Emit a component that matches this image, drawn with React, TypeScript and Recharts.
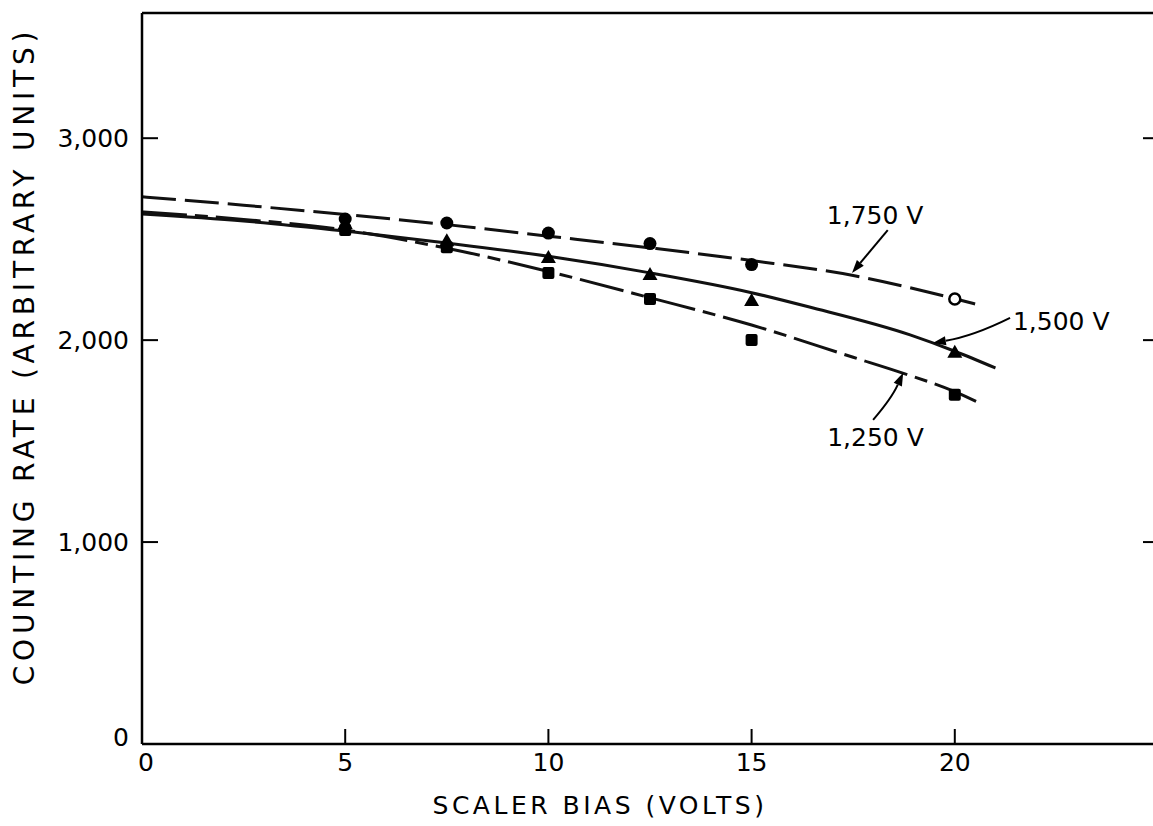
import React from 'react';
import { ComposedChart, Line, Scatter, XAxis, YAxis, ReferenceLine, ReferenceDot } from 'recharts';

const FONT = '"DejaVu Sans", sans-serif';

// Tick values / labels
const xTicks = [0, 5, 10, 15, 20];
const xTopTicks = [5, 10, 15, 20];
const yTicks = [0, 1000, 2000, 3000];
const yTickLabels: Record<number, string> = { 0: '0', 1000: '1,000', 2000: '2,000', 3000: '3,000' };

// Fitted curves
const curve1750 = [
  { x: 0, y: 2710 }, { x: 2.5, y: 2668 }, { x: 5, y: 2622 }, { x: 7.5, y: 2572 },
  { x: 10, y: 2515 }, { x: 12.5, y: 2457 }, { x: 15, y: 2394 }, { x: 17.5, y: 2320 },
  { x: 20, y: 2205 }, { x: 20.5, y: 2179 },
];
const curve1500 = [
  { x: 0, y: 2625 }, { x: 2.5, y: 2590 }, { x: 5, y: 2540 }, { x: 7.5, y: 2481 },
  { x: 10, y: 2415 }, { x: 12.5, y: 2333 }, { x: 15, y: 2235 }, { x: 16.4, y: 2165 },
  { x: 18.9, y: 2026 }, { x: 20, y: 1945 }, { x: 21, y: 1862 },
];
const curve1250 = [
  { x: 0, y: 2635 }, { x: 2.5, y: 2598 }, { x: 5, y: 2545 }, { x: 7.5, y: 2455 },
  { x: 10, y: 2340 }, { x: 12.5, y: 2210 }, { x: 15, y: 2075 }, { x: 17.5, y: 1915 },
  { x: 18.7, y: 1838 }, { x: 20, y: 1745 }, { x: 20.7, y: 1679 },
];

// Measured points
const pts1750 = [
  { x: 5, y: 2600 }, { x: 7.5, y: 2580 }, { x: 10, y: 2530 },
  { x: 12.5, y: 2478 }, { x: 15, y: 2374 }, { x: 20, y: 2204 },
];
const pts1500 = [
  { x: 5, y: 2575 }, { x: 7.5, y: 2490 }, { x: 10, y: 2407 },
  { x: 12.5, y: 2323 }, { x: 15, y: 2194 }, { x: 20, y: 1937 },
];
const pts1250 = [
  { x: 5, y: 2545 }, { x: 7.5, y: 2460 }, { x: 10, y: 2333 },
  { x: 12.5, y: 2204 }, { x: 15, y: 2001 }, { x: 20, y: 1729 },
];

const seriesLabels = ['1,750 V', '1,500 V', '1,250 V'];

const BottomTick = (props: any) => {
  const { x, y, payload } = props;
  const v = payload.value;
  return (
    <g>
      {v !== 0 && <line x1={x} y1={y} x2={x} y2={y - 15} stroke="#000" strokeWidth={2} />}
      <text x={x + (v === 0 ? 4 : 0)} y={y + 27} textAnchor="middle" fontFamily={FONT} fontSize={25} fill="#000">{v}</text>
    </g>
  );
};
const TopTick = (props: any) => {
  const { x, y } = props;
  return <line x1={x} y1={y} x2={x} y2={y + 17} stroke="#000" strokeWidth={2} />;
};
const LeftTick = (props: any) => {
  const { x, y, payload } = props;
  const v = payload.value;
  return (
    <g>
      {v !== 0 && <line x1={x} y1={y} x2={x + 16} y2={y} stroke="#000" strokeWidth={2} />}
      <text x={x - 13} y={v === 0 ? y + 2 : y + 9} textAnchor="end" fontFamily={FONT} fontSize={25} fill="#000">{yTickLabels[v]}</text>
    </g>
  );
};
const RightTick = (props: any) => {
  const { x, y, payload } = props;
  if (payload.value === 0) return <g />;
  return <line x1={x} y1={y} x2={x - 15} y2={y} stroke="#000" strokeWidth={2} />;
};

const CircleShape = (p: any) => {
  const open = p.payload && p.payload.x === 20;
  return open
    ? <circle cx={p.cx} cy={p.cy} r={5.5} fill="#fff" stroke="#000" strokeWidth={2.5} />
    : <circle cx={p.cx} cy={p.cy} r={6.5} fill="#000" />;
};
const TriangleShape = (p: any) => (
  <path d={`M${p.cx},${p.cy - 8} L${p.cx - 7.5},${p.cy + 5} L${p.cx + 7.5},${p.cy + 5} Z`} fill="#000" />
);
const SquareShape = (p: any) => (
  <rect x={p.cx - 6} y={p.cy - 6} width={12} height={12} rx={2} fill="#000" />
);

const arrowShape = (curve: number) => (p: any) => {
  const { x1, y1, x2, y2 } = p;
  const mx = (x1 + x2) / 2, my = (y1 + y2) / 2;
  const dx = x2 - x1, dy = y2 - y1;
  const len = Math.hypot(dx, dy) || 1;
  const nx = -dy / len, ny = dx / len;
  const cx = mx + nx * curve, cy = my + ny * curve;
  const tx = x2 - cx, ty = y2 - cy;
  const tl = Math.hypot(tx, ty) || 1;
  const ux = tx / tl, uy = ty / tl;
  const L = 13, W = 4.5;
  const bx = x2 - ux * L, by = y2 - uy * L;
  const head = `M${x2},${y2} L${bx - uy * W},${by + ux * W} L${bx + uy * W},${by - ux * W} Z`;
  return (
    <g>
      <path d={`M${x1},${y1} Q${cx},${cy} ${bx},${by}`} fill="none" stroke="#000" strokeWidth={2} />
      <path d={head} fill="#000" />
    </g>
  );
};

const textShape = (text: string) => (p: any) => (
  <text x={p.cx} y={p.cy} textAnchor="start" dominantBaseline="central" fontFamily={FONT} fontSize={25} fill="#000">{text}</text>
);

const XTitle = (p: any) => {
  const vb = p.viewBox || { x: 142, y: 744, width: 1016 };
  return (
    <text x={vb.x + vb.width / 2 - 50} y={vb.y + 70} textAnchor="middle" fontFamily={FONT} fontSize={25} letterSpacing={3.5} fill="#000">
      SCALER BIAS (VOLTS)
    </text>
  );
};
const YTitle = () => {
  const cx = 34, cy = 356;
  return (
    <text x={cx} y={cy} transform={`rotate(-90 ${cx} ${cy})`} textAnchor="middle" fontFamily={FONT} fontSize={28} letterSpacing={4.8} fill="#000">
      COUNTING RATE (ARBITRARY UNITS)
    </text>
  );
};

const axisStroke = { stroke: '#000', strokeWidth: 2.5 };
const lineCommon = { stroke: '#111', strokeWidth: 3, dot: false, isAnimationActive: false, activeDot: false } as any;

export default function App() {
  return (
    <div style={{ position: 'absolute', left: 0, top: 0, width: 1153, height: 826, overflow: 'hidden', background: '#fff' }}>
      <ComposedChart width={1165} height={826} margin={{ top: 12, left: 141, right: 6, bottom: 81 }}>
        <XAxis xAxisId={0} dataKey="x" type="number" domain={[0, 25]} allowDataOverflow ticks={xTicks} height={1}
          tickSize={0} tickMargin={0} tickLine={false} axisLine={axisStroke} tick={<BottomTick />} interval={0}
          label={{ content: <XTitle /> } as any} />
        <XAxis xAxisId="t" orientation="top" type="number" domain={[0, 25]} allowDataOverflow ticks={xTopTicks} height={1}
          tickSize={0} tickMargin={0} tickLine={false} axisLine={axisStroke} tick={<TopTick />} interval={0} />
        <YAxis yAxisId={0} type="number" domain={[0, 3620]} allowDataOverflow ticks={yTicks} width={1}
          tickSize={0} tickMargin={0} tickLine={false} axisLine={axisStroke} tick={<LeftTick />} interval={0}
          label={{ content: <YTitle /> } as any} />
        <YAxis yAxisId="r" orientation="right" type="number" domain={[0, 3620]} allowDataOverflow ticks={yTicks} width={1}
          tickSize={0} tickMargin={0} tickLine={false} axisLine={axisStroke} tick={<RightTick />} interval={0} />

        <Line data={curve1750} dataKey="y" type="monotone" strokeDasharray="34 9" {...lineCommon} />
        <Line data={curve1500} dataKey="y" type="monotone" {...lineCommon} />
        <Line data={curve1250} dataKey="y" type="monotone" strokeDasharray="45 8 13 8" {...lineCommon} />

        <Scatter data={pts1750} dataKey="y" shape={<CircleShape />} isAnimationActive={false} />
        <Scatter data={pts1500} dataKey="y" shape={<TriangleShape />} isAnimationActive={false} />
        <Scatter data={pts1250} dataKey="y" shape={<SquareShape />} isAnimationActive={false} />

        <ReferenceLine segment={[{ x: 18.35, y: 2545 }, { x: 17.47, y: 2333 }]} shape={arrowShape(0)} ifOverflow="visible" />
        <ReferenceLine segment={[{ x: 21.36, y: 2110 }, { x: 19.46, y: 1986 }]} shape={arrowShape(-6)} ifOverflow="visible" />
        <ReferenceLine segment={[{ x: 17.99, y: 1605 }, { x: 18.73, y: 1838 }]} shape={arrowShape(4)} ifOverflow="visible" />

        <ReferenceDot x={16.85} y={2615} r={0} shape={textShape(seriesLabels[0])} ifOverflow="visible" />
        <ReferenceDot x={21.43} y={2090} r={0} shape={textShape(seriesLabels[1])} ifOverflow="visible" />
        <ReferenceDot x={16.86} y={1516} r={0} shape={textShape(seriesLabels[2])} ifOverflow="visible" />
      </ComposedChart>
    </div>
  );
}
